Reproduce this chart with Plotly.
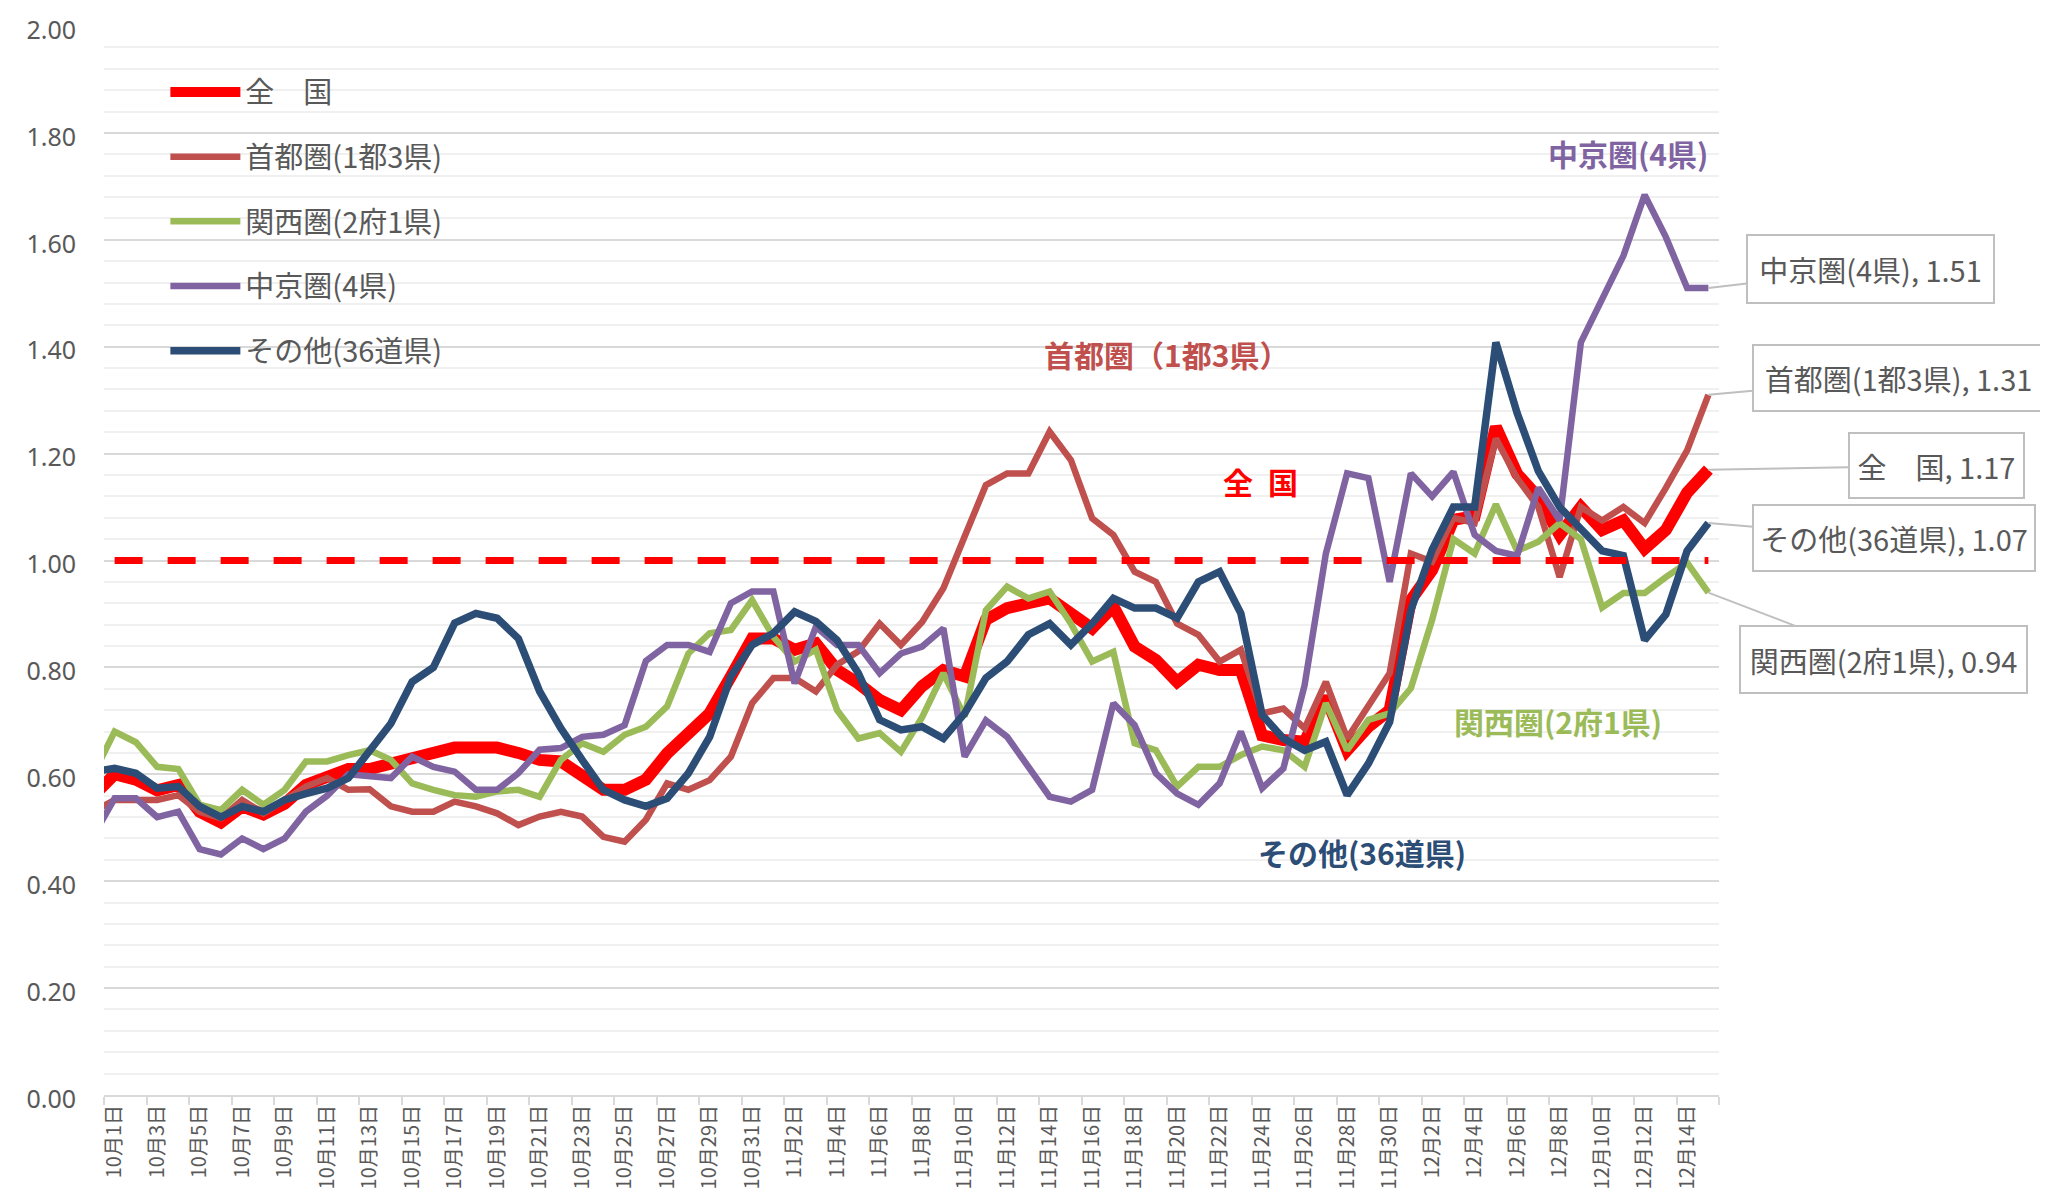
import plotly.graph_objects as go

# categories: 9/30 (only its segment into the left edge is visible), then 10/1 .. 12/15
month_days = [(10, 31), (11, 30), (12, 15)]
dates = ["9月30日"] + [f"{m}月{d}日" for m, n in month_days for d in range(1, n + 1)]
x_idx = list(range(-1, len(dates) - 1))

names = ["全　国", "首都圏(1都3県)", "関西圏(2府1県)", "中京圏(4県)", "その他(36道県)"]
colors = ["#FF0000", "#C0504D", "#9BBB59", "#8064A2", "#2C4D75"]
widths = [12, 6.5, 6.5, 6.5, 7.5]

zenkoku = [0.56, 0.60, 0.59, 0.57, 0.58, 0.53, 0.51, 0.54, 0.525, 0.545, 0.58, 0.595, 0.61,
           0.61, 0.62, 0.63, 0.636, 0.65, 0.65, 0.65, 0.64, 0.627, 0.624, 0.60, 0.571, 0.571,
           0.59, 0.639, 0.677, 0.714, 0.783, 0.854, 0.854, 0.833, 0.845, 0.795, 0.77, 0.739,
           0.72, 0.765, 0.795, 0.783, 0.889, 0.911, 0.92, 0.929, 0.901, 0.873, 0.914, 0.839,
           0.814, 0.773, 0.805, 0.795, 0.795, 0.673, 0.664, 0.661, 0.745, 0.645, 0.689, 0.72,
           0.926, 0.982, 1.076, 1.083, 1.25, 1.162, 1.118, 1.048, 1.10, 1.057, 1.075, 1.022,
           1.057, 1.127, 1.17]
shutoken = [0.53, 0.552, 0.552, 0.552, 0.561, 0.53, 0.518, 0.552, 0.527, 0.552, 0.577, 0.593,
            0.571, 0.572, 0.54, 0.53, 0.53, 0.549, 0.54, 0.527, 0.505, 0.521, 0.53, 0.521, 0.483,
            0.474, 0.515, 0.583, 0.571, 0.589, 0.633, 0.733, 0.78, 0.78, 0.755, 0.805, 0.83,
            0.882, 0.842, 0.885, 0.948, 1.045, 1.141, 1.163, 1.163, 1.241, 1.188, 1.079, 1.048,
            0.979, 0.96, 0.882, 0.861, 0.811, 0.833, 0.714, 0.723, 0.686, 0.773, 0.667, 0.727,
            0.789, 1.013, 0.998, 1.08, 1.07, 1.228, 1.154, 1.10, 0.969, 1.10, 1.075, 1.10, 1.07,
            1.136, 1.206, 1.31]
kansai = [0.60, 0.68, 0.66, 0.614, 0.61, 0.543, 0.533, 0.571, 0.543, 0.571, 0.624, 0.624, 0.636,
          0.645, 0.627, 0.583, 0.571, 0.561, 0.558, 0.568, 0.571, 0.558, 0.627, 0.658, 0.642,
          0.674, 0.689, 0.727, 0.826, 0.864, 0.87, 0.926, 0.857, 0.811, 0.833, 0.72, 0.667,
          0.677, 0.642, 0.707, 0.789, 0.708, 0.907, 0.951, 0.929, 0.942, 0.882, 0.811, 0.829,
          0.658, 0.645, 0.577, 0.614, 0.614, 0.636, 0.652, 0.645, 0.614, 0.733, 0.645, 0.702,
          0.714, 0.761, 0.889, 1.04, 1.013, 1.105, 1.018, 1.035, 1.07, 1.04, 0.912, 0.939,
          0.939, 0.969, 0.996, 0.94]
chukyo = [0.485, 0.555, 0.555, 0.52, 0.53, 0.46, 0.45, 0.48, 0.46, 0.48, 0.53, 0.56, 0.60,
          0.595, 0.593, 0.633, 0.614, 0.605, 0.571, 0.571, 0.602, 0.646, 0.649, 0.67, 0.674,
          0.692, 0.812, 0.842, 0.842, 0.829, 0.92, 0.942, 0.942, 0.77, 0.876, 0.842, 0.842,
          0.789, 0.826, 0.839, 0.873, 0.633, 0.701, 0.67, 0.614, 0.558, 0.549, 0.571, 0.733,
          0.692, 0.602, 0.564, 0.543, 0.583, 0.68, 0.574, 0.611, 0.767, 1.013, 1.163, 1.154,
          0.96, 1.163, 1.12, 1.166, 1.048, 1.018, 1.009, 1.136, 1.075, 1.408, 1.487, 1.57,
          1.684, 1.605, 1.51, 1.51]
sonota = [0.605, 0.611, 0.602, 0.574, 0.577, 0.54, 0.52, 0.54, 0.53, 0.552, 0.564, 0.574, 0.593,
          0.645, 0.695, 0.773, 0.80, 0.883, 0.901, 0.892, 0.854, 0.755, 0.686, 0.627, 0.571,
          0.552, 0.54, 0.555, 0.602, 0.67, 0.783, 0.842, 0.864, 0.904, 0.886, 0.851, 0.789,
          0.702, 0.683, 0.689, 0.667, 0.714, 0.78, 0.811, 0.861, 0.882, 0.842, 0.882, 0.929,
          0.911, 0.911, 0.892, 0.96, 0.979, 0.901, 0.711, 0.667, 0.645, 0.661, 0.561, 0.62,
          0.698, 0.907, 1.02, 1.10, 1.10, 1.408, 1.276, 1.167, 1.10, 1.061, 1.018, 1.009,
          0.851, 0.899, 1.018, 1.07]
series = [zenkoku, shutoken, kansai, chukyo, sonota]

# reference line at 1.00 from 10/1 to 12/15
baseline = [1.0] * (len(dates) - 1)

y_ticks = [0.0, 0.2, 0.4, 0.6, 0.8, 1.0, 1.2, 1.4, 1.6, 1.8, 2.0]

JP = "Noto Sans CJK JP"
GRAY = "#595959"

fig = go.Figure()

for name, vals, col, w in zip(names, series, colors, widths):
    fig.add_trace(go.Scatter(
        x=x_idx, y=vals, mode="lines", name=name, legendgroup=name,
        line=dict(color=col, width=w)
    ))

fig.add_trace(go.Scatter(
    x=x_idx[1:], y=baseline, mode="lines", showlegend=False,
    line=dict(color="#FF0000", width=7, dash="28px,25px")
))

# coloured series titles inside the plot
titles = [
    ("<b>首都圏（1都3県）</b>", 49.5, 1.386, colors[1]),
    ("<b>全\u2002国</b>", 53.9, 1.149, colors[0]),
    ("<b>中京圏(4県)</b>", 71.2, 1.762, colors[3]),
    ("<b>関西圏(2府1県)</b>", 67.9, 0.70, colors[2]),
    ("<b>その他(36道県)</b>", 58.7, 0.455, colors[4]),
]
for txt, tx, ty, col in titles:
    fig.add_annotation(x=tx, y=ty, text=txt, showarrow=False,
                       font=dict(family=JP, size=30, color=col))

# callouts for the last values: (series index, offset x, offset y, box w, box h)
callouts = [(3, 162, -19, 247, 68), (1, 190, -17, 291, 66), (0, 228, -4, 175, 65),
            (4, 186, 15, 282, 66), (2, 175, 67, 287, 67)]
last_x = x_idx[-1]
for k, ax, ay, bw, bh in callouts:
    fig.add_annotation(
        x=last_x, y=series[k][-1], ax=ax, ay=ay,
        text=f"{names[k]}, {series[k][-1]:.2f}",
        showarrow=True, arrowhead=0, arrowwidth=2, arrowcolor="#BFBFBF",
        bordercolor="#BFBFBF", borderwidth=2, borderpad=4, bgcolor="white",
        width=bw - 10, height=bh - 10,
        font=dict(family=JP, size=29, color=GRAY)
    )

# page body has an 8px margin, so the figure is 8px smaller each way
fig.update_layout(
    width=2040, height=1195,
    margin=dict(l=96, r=329, t=18, b=108),
    plot_bgcolor="white", paper_bgcolor="white",
    font=dict(family=JP, color=GRAY),
    showlegend=True,
    legend=dict(x=0.038, y=0.962, xanchor="left", yanchor="top",
                bgcolor="rgba(0,0,0,0)", tracegroupgap=24, itemwidth=70,
                font=dict(family=JP, size=29, color=GRAY)),
    xaxis=dict(
        range=[-0.5, len(dates) - 1.5],
        automargin=False,
        tickmode="array",
        tickvals=x_idx[1::2],
        ticktext=dates[1::2],
        ticks="", tickangle=-90,
        tickfont=dict(family=JP, size=20, color=GRAY),
        showgrid=False, zeroline=False,
        showline=True, linecolor="#D9D9D9", linewidth=2,
        minor=dict(tickmode="linear", tick0=-0.5, dtick=2, ticks="outside",
                   ticklen=8, tickwidth=2, tickcolor="#D9D9D9", showgrid=False),
    ),
    yaxis=dict(
        range=[0, 2],
        automargin=False,
        tickmode="array", tickvals=y_ticks, tickformat=".2f",
        ticks="", ticklabelstandoff=27, ticklabelshift=4,
        ticklabeloverflow="allow",
        tickfont=dict(family="Noto Sans", size=25, color=GRAY),
        showgrid=True, gridcolor="#D9D9D9", gridwidth=2,
        zeroline=False,
        minor=dict(tickmode="linear", tick0=0, dtick=0.04, showgrid=True,
                   gridcolor="#F0F0F0", gridwidth=2),
    ),
)

fig.write_html("out.html")
